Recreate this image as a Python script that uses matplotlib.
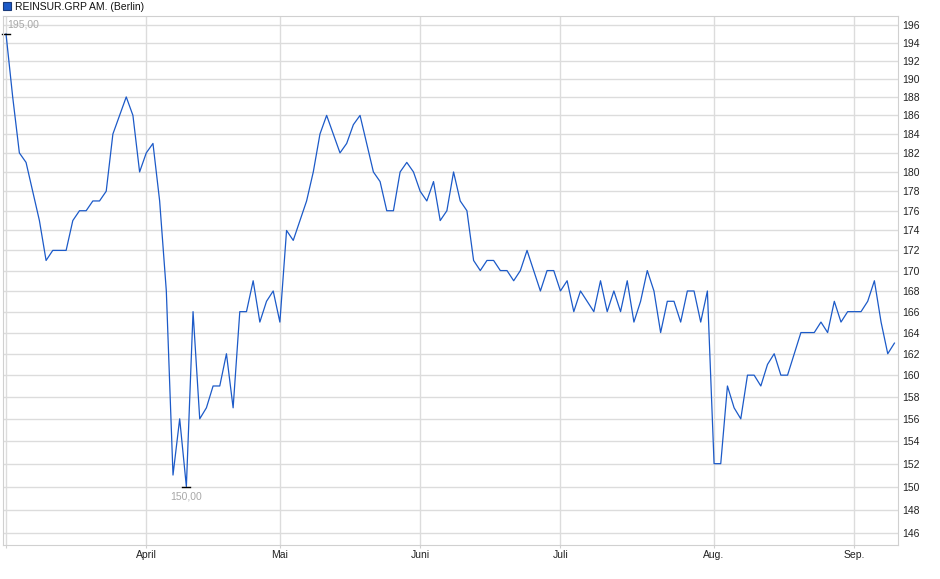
import numpy as np
import pandas as pd
import matplotlib
matplotlib.use('Agg')
import matplotlib.pyplot as plt
from matplotlib.patches import Rectangle
from matplotlib.ticker import FixedLocator, NullLocator, FuncFormatter

plt.rcParams['font.family'] = ['Liberation Sans', 'DejaVu Sans']

# Handelstage Berlin (Karfreitag, Ostermontag, 1. Mai geschlossen)
holidays = ['2025-04-18', '2025-04-21', '2025-05-01']
dates = pd.bdate_range('2025-03-03', '2025-09-09', freq='C', holidays=holidays)

# Schlusskurse
prices = [
    195, 188, 182, 181, 178, 175, 171, 172, 172, 172,
    175, 176, 176, 177, 177, 178, 184, 186, 188, 186,
    180, 182, 183, 177, 168, 151, 156, 150, 166, 156,
    157, 159, 159, 162, 157, 166, 166, 169, 165, 167,
    168, 165, 174, 173, 175, 177, 180, 184, 186, 184,
    182, 183, 185, 186, 183, 180, 179, 176, 176, 180,
    181, 180, 178, 177, 179, 175, 176, 180, 177, 176,
    171, 170, 171, 171, 170, 170, 169, 170, 172, 170,
    168, 170, 170, 168, 169, 166, 168, 167, 166, 169,
    166, 168, 166, 169, 165, 167, 170, 168, 164, 167,
    167, 165, 168, 168, 165, 168, 152, 152, 159, 157,
    156, 160, 160, 159, 161, 162, 160, 160, 162, 164,
    164, 164, 165, 164, 167, 165, 166, 166, 166, 167,
    169, 165, 162, 163,
]
month_names = {3: '', 4: 'April', 5: 'Mai', 6: 'Juni', 7: 'Juli', 8: 'Aug.', 9: 'Sep.'}
y_ticks = list(range(146, 197, 2))
title = 'REINSUR.GRP AM. (Berlin)'

x = np.arange(len(prices))
months = dates.month.to_numpy()
tick_idx = [0] + [i for i in range(1, len(months)) if months[i] != months[i - 1]]
tick_lbl = [month_names[months[i]] for i in tick_idx]

W, H = 940, 579
fig = plt.figure(figsize=(W / 100, H / 100), dpi=100)
ax = fig.add_axes([3 / W, (H - 545) / H, 895.3 / W, 529 / H])

line_col = '#1c5ac8'
ax.plot(x, prices, color=line_col, lw=0.9)

ax.set_yscale('log')
ax.set_ylim(145.0, 197.03)
ax.set_xlim(-0.45, 133.58)
ax.yaxis.set_major_locator(FixedLocator(y_ticks))
ax.yaxis.set_minor_locator(NullLocator())
ax.yaxis.set_major_formatter(FuncFormatter(lambda v, p: f'{v:.0f}'))
ax.yaxis.tick_right()
ax.tick_params(axis='y', length=0, pad=3, labelsize=7.5, labelcolor='#222222')
ax.set_xticks(tick_idx, tick_lbl)
ax.tick_params(axis='x', length=2, color='#d0d0d0', pad=1.5, labelsize=7.5, labelcolor='#222222')
ax.grid(color='#dcdcdc', lw=1)
ax.set_axisbelow(True)
for s in ax.spines.values():
    s.set_color('#d0d0d0')

# Hoch und Tief markieren
imax, imin = int(np.argmax(prices)), int(np.argmin(prices))
for i, va, dy in [(imax, 'bottom', 3), (imin, 'top', -3.5)]:
    v = prices[i]
    ax.plot([i - 0.6, i + 0.6], [v, v], color='black', lw=1, clip_on=False)
    ha = 'left' if i == imax else 'center'
    dx = 1 if i == imax else 0
    ax.annotate(f'{v:.2f}'.replace('.', ','), (i, v), xytext=(dx, dy),
                textcoords='offset points', ha=ha, va=va,
                fontsize=7.5, color='#a8a8a8')

# Legende oben links
fig.add_artist(Rectangle((3 / W, 1 - 10 / H), 8 / W, 8 / H, transform=fig.transFigure,
                         facecolor=line_col, edgecolor='#1a3a7a', lw=0.8))
fig.text(15 / W, 1 - 6.5 / H, title, va='center', ha='left', fontsize=7.5, color='#111111')

fig.savefig('out.png', dpi=100)
